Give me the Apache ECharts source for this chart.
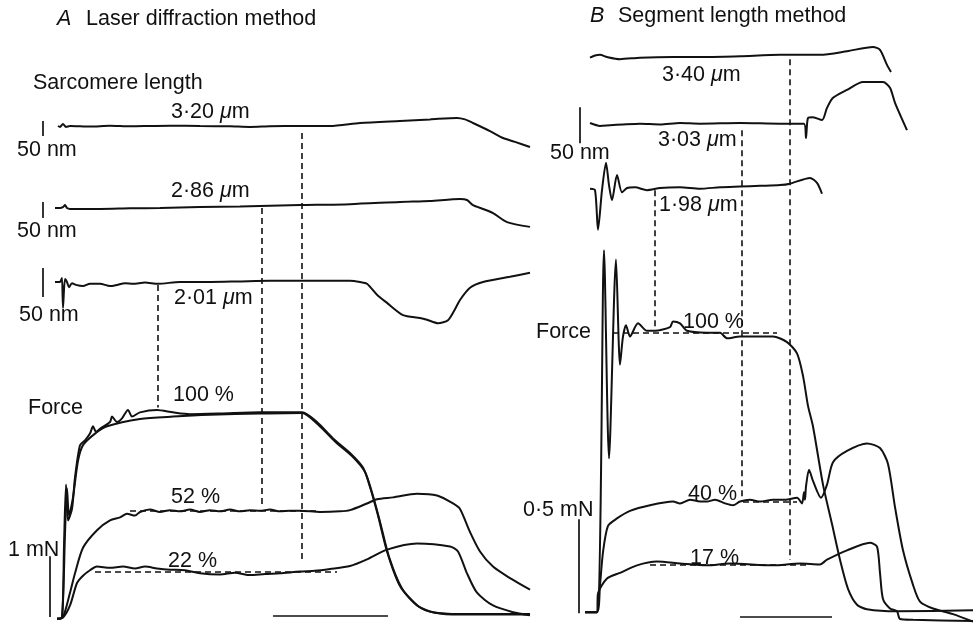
<!DOCTYPE html>
<html><head><meta charset="utf-8">
<script src="https://cdn.jsdelivr.net/npm/echarts/dist/echarts.min.js"></script>
<style>html,body{margin:0;padding:0;background:#fff}#c{width:973px;height:631px}</style>
</head><body><div id="c"></div>
<script>
// ---------- DATA (time in ms, sarcomere length change in nm, force in mN) ----------
// Panel A – laser diffraction method
const A_len320 = [[-2,0],[0,-3],[3,7],[6,-3],[10,0],[30,-2],[50,1],[70,-1],[90,0],[110,1],[140,0],[170,-1],[190,-3],[210,-1],[240,0],[270,0],[300,10],[340,17],[370,22],[397,27],[405,22],[413,10],[430,-17],[443,-40],[455,-53],[470,-70]];
const A_len286 = [[-5,0],[0,0],[3,3],[5,9],[7,0],[10,-3],[40,-3],[70,-1],[100,0],[140,3],[180,5],[240,9],[290,12],[340,19],[370,22],[400,28],[407,25],[413,9],[423,-3],[433,-16],[447,-44],[470,-59]];
const A_len201 = [[-5,0],[0,0],[1,3],[2,7],[3,-45],[5,5],[7,0],[9,-9],[12,-2],[16,-5],[23,-7],[30,-3],[40,-3],[50,-7],[57,-5],[65,-2],[73,-3],[85,-1],[98,-3],[120,0],[150,0],[180,1],[210,2],[250,2],[290,2],[300,0],[307,-3],[317,-22],[327,-36],[343,-57],[360,-62],[367,-65],[378,-71],[388,-66],[395,-47],[400,-31],[410,-10],[423,0],[450,9],[470,16]];
const A_force100a = [[-3,0],[2,0.02],[4,1.2],[6,2.21],[8,1.62],[12,1.81],[15,2.33],[20,2.86],[25,2.94],[30,3.05],[33,3.17],[36,3.08],[40,3.13],[50,3.24],[52,3.33],[57,3.24],[62,3.30],[68,3.44],[72,3.33],[80,3.40],[97,3.44],[113,3.40],[130,3.37],[160,3.38],[200,3.40],[242,3.40],[257,3.24],[273,2.97],[290,2.73],[303,2.49],[310,2.17],[318,1.70],[327,1.11],[340,0.54],[357,0.22],[373,0.11],[400,0.08],[470,0.08]];
const A_force100b = [[-3,0],[2,0.02],[5,1.4],[7,2.15],[9,1.7],[13,2.0],[18,2.6],[23,2.86],[35,3.05],[47,3.17],[80,3.29],[113,3.33],[150,3.36],[200,3.38],[242,3.39],[258,3.20],[275,2.92],[292,2.68],[305,2.42],[312,2.08],[320,1.60],[329,1.02],[342,0.50],[359,0.20],[375,0.10],[400,0.07],[470,0.07]];
const A_force52 = [[-3,0],[3,0.03],[10,0.43],[15,0.75],[23,1.17],[37,1.46],[50,1.62],[60,1.67],[67,1.73],[75,1.70],[80,1.76],[90,1.80],[100,1.76],[110,1.79],[120,1.77],[130,1.80],[140,1.76],[150,1.79],[160,1.77],[170,1.80],[180,1.77],[190,1.79],[200,1.78],[210,1.80],[220,1.77],[230,1.78],[240,1.78],[260,1.76],[280,1.77],[290,1.79],[307,1.90],[317,1.97],[333,2.00],[357,2.06],[377,2.03],[393,1.90],[400,1.81],[410,1.43],[420,1.11],[433,0.86],[450,0.67],[470,0.48]];
const A_force22 = [[-3,0],[3,0.02],[10,0.22],[17,0.59],[23,0.71],[30,0.80],[37,0.86],[50,0.84],[63,0.86],[75,0.83],[85,0.86],[97,0.83],[110,0.81],[125,0.80],[140,0.75],[160,0.73],[175,0.76],[190,0.72],[205,0.74],[220,0.75],[240,0.78],[255,0.79],[270,0.82],[290,0.87],[307,0.98],[327,1.14],[357,1.24],[390,1.19],[398,1.11],[407,0.75],[417,0.43],[433,0.22],[453,0.11],[470,0.06]];
// Panel B – segment length method
const B_len340 = [[0,-1],[5,2],[10,3],[17,0],[30,-3],[50,-1],[83,0],[117,0],[150,1],[190,3],[230,3],[257,8],[283,14],[290,10],[297,-11],[301,-21]];
const B_len303 = [[0,0],[10,-4],[20,-3],[33,-2],[50,-1],[70,-2],[90,0],[110,-1],[150,0],[190,-1],[214,-1],[216,-21],[218,7],[223,8],[232,4],[237,21],[243,35],[257,46],[273,57],[293,57],[300,49],[305,28],[317,-10]];
const B_len198 = [[0,-1],[5,-3],[8,-58],[12,-3],[16,35],[19,4],[22,-17],[27,18],[32,-6],[37,0],[45,1],[57,-3],[70,0],[90,1],[110,-1],[130,1],[150,2],[170,3],[190,4],[200,6],[220,14],[227,7],[232,-8]];
const B_force100 = [[-5,0],[7,0],[14,1.93],[19,0.82],[26,1.88],[30,1.32],[33,1.47],[36,1.53],[40,1.47],[48,1.54],[57,1.50],[65,1.50],[80,1.52],[83,1.55],[90,1.54],[97,1.50],[117,1.49],[130,1.49],[137,1.46],[150,1.47],[183,1.47],[197,1.44],[207,1.38],[213,1.26],[218,1.10],[223,0.99],[233,0.68],[242,0.47],[250,0.28],[258,0.125],[267,0.04],[277,0.016],[307,0.005],[383,0.01]];
const B_force40 = [[-5,0],[7,0],[10,0.146],[13,0.32],[18,0.46],[27,0.50],[40,0.54],[60,0.57],[83,0.59],[90,0.58],[100,0.60],[110,0.59],[117,0.59],[125,0.60],[135,0.58],[143,0.57],[150,0.59],[160,0.60],[170,0.59],[183,0.60],[195,0.60],[207,0.61],[212,0.58],[214,0.64],[215,0.60],[216,0.67],[219,0.76],[223,0.70],[231,0.61],[237,0.68],[243,0.80],[257,0.86],[277,0.90],[290,0.875],[298,0.79],[305,0.56],[313,0.33],[323,0.146],[330,0.057],[343,0.02],[363,-0.01],[383,-0.05]];
const B_force17 = [[-5,0],[7,0],[8,0.10],[17,0.18],[30,0.21],[47,0.25],[67,0.27],[90,0.26],[117,0.25],[140,0.26],[183,0.25],[210,0.26],[230,0.255],[237,0.28],[257,0.33],[280,0.37],[287,0.35],[290,0.21],[293,0.07],[300,0.02],[307,0.005],[310,-0.036],[323,-0.04],[383,-0.047]];

// dashed vertical markers: time, start on a length trace (nm), end on force record (mN)
const markers = [
  {t:98,  from:['A201',-5],  to:['AF',3.48]},
  {t:202, from:['A286',0],   to:['AF',1.89]},
  {t:242, from:['A320',-23], to:['AF',0.94]},
  {t:65,  from:['B198',-3],  to:['BF',1.52]},
  {t:152, from:['B303',-10], to:['BF',0.61]},
  {t:200, from:['B340',-3],  to:['BF',0.28]}
];
// calibration bars: [time, from, to]
const calBars = {A320:[-17,-33,17], A286:[-17,-31,19], A201:[-17,-26,24], AF:[-10,0.03,1.03], B303:[-10,-28,22], BF:[-11,-0.005,0.495]};
// time bars: [from, to, level]
const timeBars = {AF:[213,328,0.05], BF:[150,242,-0.026]};
// dashed force levels: [from, to, level]
const levelLines = {AF:[[35,277,0.78],[70,260,1.78]], BF:[[23,187,1.49],[153,207,0.59],[60,220,0.255]]};

// ---------- LAYOUT ----------
const panelX = {A:{left:0, px:1, min:-60, max:470}, B:{left:540, px:1, min:-50, max:383}};
const tracks = [
  {id:'A320', panel:'A', base:126, px:0.3,  min:-80, max:40,  series:[A_len320]},
  {id:'A286', panel:'A', base:208, px:0.32, min:-70, max:40,  series:[A_len286]},
  {id:'A201', panel:'A', base:282, px:0.58, min:-80, max:30,  series:[A_len201]},
  {id:'AF',   panel:'A', base:627, px:63,   min:-0.2, max:3.6, series:[A_force100a,A_force100b,A_force52,A_force22]},
  {id:'B340', panel:'B', base:57,  px:0.72, min:-30, max:20,  series:[B_len340]},
  {id:'B303', panel:'B', base:123, px:0.72, min:-40, max:70,  series:[B_len303]},
  {id:'B198', panel:'B', base:188, px:0.72, min:-70, max:50,  series:[B_len198]},
  {id:'BF',   panel:'B', base:621, px:192,  min:-0.1, max:2.0, series:[B_force100,B_force40,B_force17]}
];
const FONT = '"Liberation Sans", Arial, Helvetica, sans-serif';
const FS = 21.5;
const INK = '#111';
const labels = [
  {x:57,y:19,t:'A',it:true},{x:86,y:19,t:'Laser diffraction method'},
  {x:590,y:16,t:'B',it:true},{x:618,y:16,t:'Segment length method'},
  {x:33,y:83.5,t:'Sarcomere length'},
  {x:171,y:112.5,t:'3·20 μm'},{x:17,y:150.5,t:'50 nm'},
  {x:171,y:191.5,t:'2·86 μm'},{x:17,y:231.5,t:'50 nm'},
  {x:174,y:298.5,t:'2·01 μm'},{x:19,y:315,t:'50 nm'},
  {x:28,y:408.5,t:'Force'},{x:173,y:395,t:'100 %'},{x:171,y:497.5,t:'52 %'},
  {x:8,y:550,t:'1 mN'},{x:168,y:561,t:'22 %'},
  {x:662,y:75,t:'3·40 μm'},{x:658,y:140,t:'3·03 μm'},{x:550,y:153.5,t:'50 nm'},
  {x:659,y:205.5,t:'1·98 μm'},
  {x:536,y:332,t:'Force'},{x:683,y:322,t:'100 %'},{x:688,y:494,t:'40 %'},
  {x:523,y:510,t:'0·5 mN'},{x:690,y:558,t:'17 %'}
];

// ---------- BUILD ----------
const grids=[], xAxes=[], yAxes=[], series=[];
const idx = {};
tracks.forEach((tr,i)=>{
  idx[tr.id]=i;
  const P = panelX[tr.panel];
  grids.push({left:P.left, width:(P.max-P.min)*P.px, top:tr.base-tr.max*tr.px, height:(tr.max-tr.min)*tr.px, containLabel:false, show:false});
  xAxes.push({type:'value', gridIndex:i, min:P.min, max:P.max, show:false});
  yAxes.push({type:'value', gridIndex:i, min:tr.min, max:tr.max, show:false});
  const ml = [];
  if (calBars[tr.id]) { const c=calBars[tr.id]; ml.push([{coord:[c[0],c[1]], lineStyle:{type:'solid',width:1.7}},{coord:[c[0],c[2]]}]); }
  if (timeBars[tr.id]) { const c=timeBars[tr.id]; ml.push([{coord:[c[0],c[2]], lineStyle:{type:'solid',width:1.7}},{coord:[c[1],c[2]]}]); }
  (levelLines[tr.id]||[]).forEach(c=>ml.push([{coord:[c[0],c[2]], lineStyle:{type:[6,4],width:1.7}},{coord:[c[1],c[2]]}]));
  tr.series.forEach((d,k)=>{
    series.push({type:'line', xAxisIndex:i, yAxisIndex:i, data:d, symbol:'none', showSymbol:false,
      smooth:0.25, clip:false, silent:true, lineStyle:{color:INK, width:2},
      markLine: k===0 && ml.length ? {symbol:['none','none'], silent:true, animation:false, label:{show:false},
        lineStyle:{color:INK}, emphasis:{disabled:true}, data:ml} : undefined});
  });
});

const chart = echarts.init(document.getElementById('c'), null, {renderer:'canvas'});
chart.setOption({animation:false, backgroundColor:'#fff', grid:grids, xAxis:xAxes, yAxis:yAxes, series:series});

const g = [];
markers.forEach(m=>{
  const p1 = chart.convertToPixel({gridIndex:idx[m.from[0]]},[m.t,m.from[1]]);
  const p2 = chart.convertToPixel({gridIndex:idx[m.to[0]]},[m.t,m.to[1]]);
  g.push({type:'line', silent:true, shape:{x1:p1[0],y1:p1[1],x2:p2[0],y2:p2[1]}, style:{stroke:INK, lineWidth:1.6, lineDash:[6,4]}});
});
labels.forEach(L=>{
  let style;
  if (L.t.indexOf('μ')>=0) {
    const parts = L.t.split('μ');
    style = {text:'{n|'+parts[0]+'}{i|μ}{n|'+parts[1]+'}', rich:{n:{font:FS+'px '+FONT, fill:INK}, i:{font:'italic '+FS+'px '+FONT, fill:INK}}, fill:INK, font:FS+'px '+FONT, verticalAlign:'middle', align:'left'};
  } else {
    style = {text:L.t, fill:INK, font:(L.it?'italic ':'')+FS+'px '+FONT, verticalAlign:'middle', align:'left'};
  }
  g.push({type:'text', x:L.x, y:L.y, silent:true, style:style});
});
chart.setOption({graphic:g});
</script></body></html>
